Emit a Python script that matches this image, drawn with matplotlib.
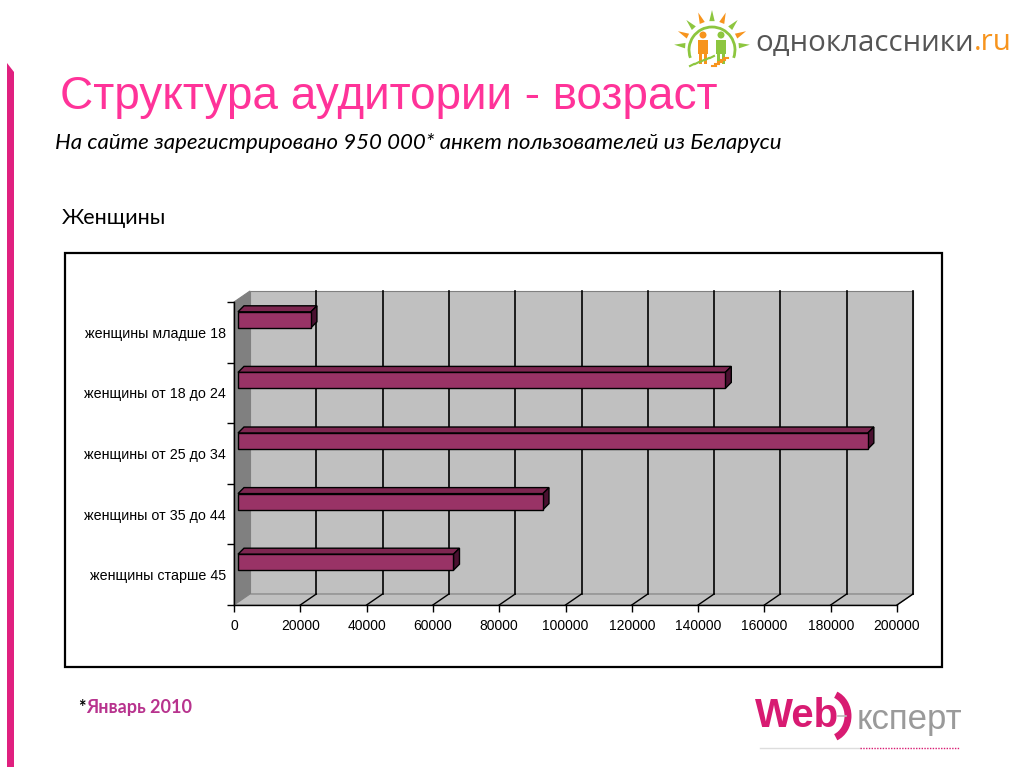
import matplotlib.pyplot as plt
import numpy as np
from matplotlib.patches import Polygon, Rectangle, Circle, Arc

categories = ["женщины младше 18", "женщины от 18 до 24", "женщины от 25 до 34",
              "женщины от 35 до 44", "женщины старше 45"]
values = [22000, 147000, 190000, 92000, 65000]
xticks = np.arange(0, 200001, 20000)

W, H = 1024, 767
fig = plt.figure(figsize=(W / 100, H / 100), dpi=100)
fig.patch.set_facecolor("white")
renderer = fig.canvas.get_renderer()

# overlay in pixel coordinates for slide decorations
bg = fig.add_axes([0, 0, 1, 1])
bg.set_xlim(0, W)
bg.set_ylim(H, 0)
bg.axis("off")


def right_px(t):
    # right edge of a text, in pixels from the left
    return t.get_window_extent(renderer).x1


# left pink stripe
bg.add_patch(Polygon([(7, 63), (14, 72), (14, H), (7, H)], closed=True,
                     color="#e0207f", lw=0))

bg.text(60, 97, "Структура аудитории - возраст", fontsize=33, color="#ff3399",
        family="Liberation Sans", va="center", ha="left")
bg.text(55, 143, "На сайте зарегистрировано 950 000* анкет пользователей из Беларуси",
        fontsize=16, style="italic", family="Lato", va="center", ha="left")
bg.text(62, 218, "Женщины", fontsize=15.5, family="Lato", va="center", ha="left")

# chart frame
bg.add_patch(Rectangle((65, 253), 877, 414, fill=False, ec="black", lw=1.6))

bg.text(78, 708, "*", fontsize=13, fontweight="bold", family="Lato", va="center")
bg.text(86, 708, "Январь 2010", fontsize=13, fontweight="bold", family="Lato",
        color="#b8338e", va="center")

# odnoklassniki logo
cx, cy = 712, 48
for k, ang in enumerate(np.linspace(175, 5, 9)):
    a = np.radians(ang)
    col = "#8dc63f" if k % 2 == 0 else "#f7941d"
    r0, r1 = 27, 38
    p = [(cx + r0 * np.cos(a - 0.1), cy - r0 * np.sin(a - 0.1)),
         (cx + r1 * np.cos(a), cy - r1 * np.sin(a)),
         (cx + r0 * np.cos(a + 0.1), cy - r0 * np.sin(a + 0.1))]
    bg.add_patch(Polygon(p, closed=True, color=col, lw=0))
bg.add_patch(Arc((cx, cy + 2), 46, 46, theta1=160, theta2=380, color="#8dc63f", lw=2))
for px, col in [(703, "#f7941d"), (721, "#8dc63f")]:
    bg.add_patch(Circle((px, 35), 3.5, color=col, lw=0))
    bg.add_patch(Rectangle((px - 5, 40), 10, 14, color=col, lw=0))
    bg.add_patch(Rectangle((px - 4, 54), 3, 10, color=col, lw=0))
    bg.add_patch(Rectangle((px + 1, 54), 3, 10, color=col, lw=0))
for k in range(5):
    bg.plot([690 + 5 * k, 694 + 5 * k], [66 - 2 * k, 64 - 2 * k], color="#8dc63f", lw=1.5)
    bg.plot([712 + 3 * k, 716 + 3 * k], [66 - 2 * k, 66 - 2 * k], color="#f7941d", lw=1.5)
t_ok = bg.text(755, 43, "одноклассники", fontsize=21.2, color="#555555",
               family="Open Sans", va="center", ha="left")
bg.text(right_px(t_ok), 43, ".ru", fontsize=21.2, color="#f7941d",
        family="Open Sans", va="center", ha="left")

# WebЭксперт logo
t_web = bg.text(755, 716, "Web", fontsize=29, fontweight="bold", color="#d81b72",
                family="Liberation Sans", va="center", ha="left")
bg.add_patch(Arc((828, 716), 40, 46, theta1=-70, theta2=70, color="#d81b72", lw=5))
bg.plot([838, 846], [716, 716], color="#bbbbbb", lw=1.2)
bg.text(857, 719, "ксперт", fontsize=25, color="#9a9a9a",
        family="Liberation Sans", va="center", ha="left")
bg.plot([760, 860], [748, 748], color="#dddddd", lw=1)
bg.plot([860, 960], [748, 748], color="#d81b72", lw=1, ls=(0, (1, 1)))

# chart axes on the front plane
x0p, x1p, y0p, y1p = 234, 897, 302, 605
ax = fig.add_axes([x0p / W, 1 - y1p / H, (x1p - x0p) / W, (y1p - y0p) / H])
ax.set_xlim(0, 200000)
ax.set_ylim(-0.5, 4.5)
ax.patch.set_alpha(0)
px_x = 200000 / (x1p - x0p)
px_y = 5 / (y1p - y0p)

DX, DY = 16 * px_x, 11 * px_y
xmax = 200000

# side wall, back wall, floor
ax.add_patch(Polygon([(0, -0.5), (DX, -0.5 + DY), (DX, 4.5 + DY), (0, 4.5)],
                     closed=True, fc="#808080", ec="#808080", lw=0.8, clip_on=False, zorder=1))
ax.add_patch(Polygon([(DX, -0.5 + DY), (xmax + DX, -0.5 + DY), (xmax + DX, 4.5 + DY), (DX, 4.5 + DY)],
                     closed=True, fc="#c0c0c0", ec="#808080", lw=0.8, clip_on=False, zorder=1))
ax.add_patch(Polygon([(0, -0.5), (xmax, -0.5), (xmax + DX, -0.5 + DY), (DX, -0.5 + DY)],
                     closed=True, fc="#c0c0c0", ec="#808080", lw=0.8, clip_on=False, zorder=1))
for v in xticks[1:]:
    ax.plot([v + DX, v + DX], [-0.5 + DY, 4.5 + DY], color="black", lw=1.2,
            clip_on=False, zorder=2)
    ax.plot([v, v + DX], [-0.5, -0.5 + DY], color="black", lw=1.0, clip_on=False, zorder=2)

# 3D bars
bx0 = 4 * px_x
bh = 16 * px_y
bdx, bdy = 6 * px_x, 6 * px_y
ypos = np.arange(len(categories))[::-1]
for yc, v in zip(ypos, values):
    bot = yc + 4.5 * px_y
    top = bot + bh
    ax.barh(bot + bh / 2, v, height=bh, left=bx0, color="#993366",
            edgecolor="black", lw=1.0, zorder=4)
    ax.add_patch(Polygon([(bx0, top), (bx0 + v, top), (bx0 + v + bdx, top + bdy), (bx0 + bdx, top + bdy)],
                         closed=True, fc="#7d2650", ec="black", lw=1.0, zorder=3))
    ax.add_patch(Polygon([(bx0 + v, bot), (bx0 + v + bdx, bot + bdy), (bx0 + v + bdx, top + bdy), (bx0 + v, top)],
                         closed=True, fc="#4a1030", ec="black", lw=1.0, zorder=3))

for s in ["top", "right"]:
    ax.spines[s].set_visible(False)
ax.spines["left"].set_linewidth(1.0)
ax.spines["bottom"].set_linewidth(1.0)
ax.spines["left"].set_zorder(5)
ax.spines["bottom"].set_zorder(5)

ax.set_yticks(ypos)
ax.set_yticklabels(categories, family="Liberation Sans", fontsize=10.3)
ax.set_yticks(np.arange(-0.5, 5, 1), minor=True)
ax.tick_params(axis="y", which="major", length=0, pad=6)
ax.tick_params(axis="y", which="minor", length=5, width=1)
ax.set_xticks(xticks)
ax.set_xticklabels([str(v) for v in xticks], family="Liberation Sans", fontsize=10)
ax.tick_params(axis="x", length=5, width=1, pad=5)

fig.savefig("out.png", dpi=100)
